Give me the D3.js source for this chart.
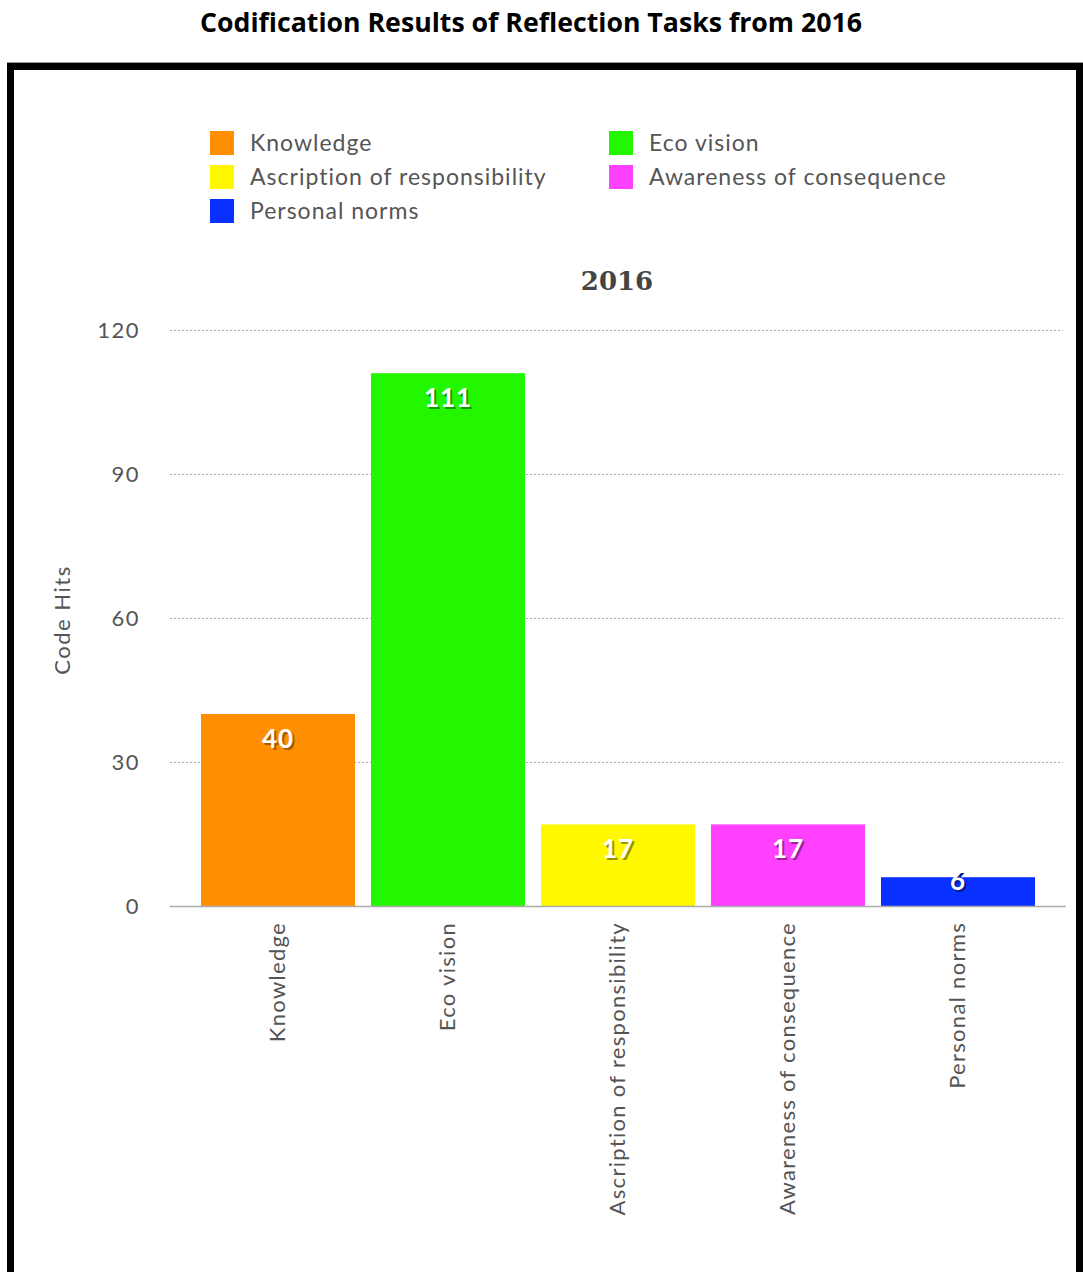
<!DOCTYPE html>
<html>
<head>
<meta charset="utf-8">
<script src="https://cdn.jsdelivr.net/npm/d3@7"></script>
<style>
  body { margin: 0; background: #fff; }
  text { font-family: Lato, "Open Sans", sans-serif; }
</style>
</head>
<body>
<svg width="1083" height="1272"></svg>
<script>
var categories = ["Knowledge", "Eco vision", "Ascription of responsibility", "Awareness of consequence", "Personal norms"];
var values = [40, 111, 17, 17, 6];
var colors = ["#ff8f00", "#22f700", "#fff800", "#ff40ff", "#0a30ff"];
var shadows = ["#a85a00", "#149900", "#9a9400", "#a020a0", "#001890"];
var yTicks = [0, 30, 60, 90, 120];
// legend order as in the picture (two columns)
var legendOrder = [0, 1, 2, 3, 4];

var svg = d3.select("svg");

// outer title
svg.append("text")
  .attr("x", 531).attr("y", 32)
  .attr("text-anchor", "middle")
  .style("font-family", "'Open Sans', sans-serif")
  .style("font-weight", "bold")
  .style("font-size", "27px")
  .attr("textLength", 662).attr("lengthAdjust", "spacingAndGlyphs")
  .text("Codification Results of Reflection Tasks from 2016");

// black frame
svg.append("line").attr("x1", 7).attr("x2", 1083).attr("y1", 62.5).attr("y2", 62.5)
  .attr("stroke", "#999").attr("stroke-width", 1);
svg.append("rect")
  .attr("x", 10.5).attr("y", 66.5).attr("width", 1069).attr("height", 1300)
  .attr("fill", "none").attr("stroke", "#000").attr("stroke-width", 7);

var x = d3.scaleBand().domain(categories).range([193, 1043]).paddingInner(0.094).paddingOuter(0.047);
var y = d3.scaleLinear().domain([0, 120]).range([906, 330]);

// gridlines
svg.append("g").selectAll("line")
  .data(yTicks.filter(function(d) { return d > 0; }))
  .enter().append("line")
  .attr("x1", 170).attr("x2", 1063)
  .attr("y1", function(d) { return y(d) + 0.5; })
  .attr("y2", function(d) { return y(d) + 0.5; })
  .attr("stroke", "#aaa").attr("stroke-dasharray", "2,2");

// y axis labels
var yAxis = svg.append("g")
  .attr("transform", "translate(150,0)")
  .call(d3.axisLeft(y).tickValues(yTicks).tickSize(0).tickPadding(10));
yAxis.select(".domain").remove();
yAxis.selectAll("text")
  .style("font-size", "22px").style("fill", "#555")
  .style("letter-spacing", "1.5px")
  .style("font-family", "Lato, sans-serif");

svg.append("text")
  .attr("transform", "translate(70,620) rotate(-90)")
  .attr("text-anchor", "middle")
  .style("font-size", "22px").style("fill", "#555")
  .style("letter-spacing", "1.5px")
  .text("Code Hits");

// bars
svg.append("g").selectAll("rect")
  .data(values).enter().append("rect")
  .attr("x", function(d, i) { return x(categories[i]); })
  .attr("y", function(d) { return y(d); })
  .attr("width", x.bandwidth())
  .attr("height", function(d) { return y(0) - y(d); })
  .attr("fill", function(d, i) { return colors[i]; });

// baseline
svg.append("line").attr("x1", 170).attr("x2", 1066)
  .attr("y1", y(0) + 0.5).attr("y2", y(0) + 0.5)
  .attr("stroke", "#aaa").attr("stroke-width", 1.5);

// value labels
function labelY(d) { return Math.min(y(d) + 34, y(0) - 16); }
var vl = svg.append("g").selectAll("g").data(values).enter().append("g");
vl.append("text")
  .attr("x", function(d, i) { return x(categories[i]) + x.bandwidth() / 2 + 2; })
  .attr("y", function(d) { return labelY(d) + 2; })
  .attr("text-anchor", "middle")
  .style("font-size", "26px").style("font-weight", "bold")
  .style("letter-spacing", "1px")
  .style("fill", function(d, i) { return shadows[i]; })
  .text(function(d) { return d; });
vl.append("text")
  .attr("x", function(d, i) { return x(categories[i]) + x.bandwidth() / 2; })
  .attr("y", function(d) { return labelY(d); })
  .attr("text-anchor", "middle")
  .style("font-size", "26px").style("font-weight", "bold")
  .style("letter-spacing", "1px")
  .style("fill", "#fff")
  .text(function(d) { return d; });

// x labels
svg.append("g").selectAll("text")
  .data(categories).enter().append("text")
  .attr("transform", function(d) {
    return "translate(" + (x(d) + x.bandwidth() / 2 + 7) + ",922) rotate(-90)";
  })
  .attr("text-anchor", "end")
  .style("font-size", "22px").style("fill", "#555")
  .style("letter-spacing", "1.3px")
  .text(function(d) { return d; });

// chart title
svg.append("text")
  .attr("x", 617).attr("y", 290)
  .attr("text-anchor", "middle")
  .style("font-family", "'DejaVu Serif', serif")
  .style("font-weight", "bold")
  .style("font-size", "26px").style("fill", "#444")
  .text("2016");

// legend
var legend = svg.append("g").selectAll("g")
  .data(legendOrder).enter().append("g")
  .attr("transform", function(d, i) {
    return "translate(" + (i % 2 === 0 ? 210 : 609) + "," + (131 + Math.floor(i / 2) * 34) + ")";
  });
legend.append("rect")
  .attr("width", 24).attr("height", 24)
  .attr("fill", function(d) { return colors[d]; });
legend.append("text")
  .attr("x", 40).attr("y", 20)
  .style("font-size", "23px").style("fill", "#555")
  .style("letter-spacing", "1px")
  .text(function(d) { return categories[d]; });
</script>
</body>
</html>
